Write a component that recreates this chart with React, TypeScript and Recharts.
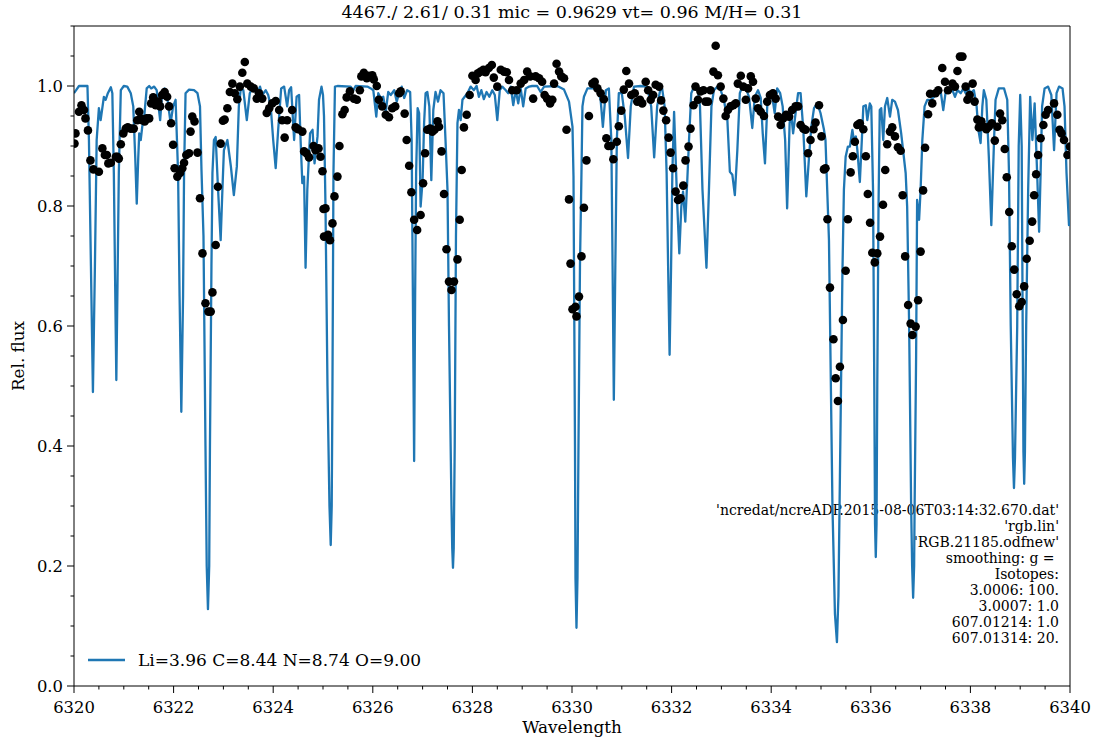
import React from 'react';
import { ComposedChart, Line, Scatter, XAxis, YAxis, ReferenceLine } from 'recharts';

type Pt = [number, number];

// synthetic spectrum (wavelength, relative flux)
const model6320: Pt[] = [
  [6320.0, 0.988], [6320.1, 1.0], [6320.27, 1.0], [6320.3, 0.91], [6320.34, 0.7], [6320.38, 0.49], [6320.42, 0.7],
  [6320.455, 0.91], [6320.5, 0.963], [6320.535, 0.943], [6320.6, 0.982], [6320.635, 0.977], [6320.68, 0.988],
  [6320.74, 0.998], [6320.77, 0.988], [6320.8, 0.855], [6320.825, 0.68], [6320.85, 0.51], [6320.875, 0.68],
  [6320.9, 0.855], [6320.94, 0.993], [6321.0, 1.0], [6321.07, 0.999], [6321.14, 0.988], [6321.19, 0.966],
  [6321.23, 0.88], [6321.26, 0.804], [6321.29, 0.88], [6321.31, 0.921], [6321.34, 0.91], [6321.37, 0.932],
  [6321.41, 0.949], [6321.46, 0.996], [6321.51, 1.0], [6321.55, 0.996], [6321.61, 0.999], [6321.66, 0.993],
  [6321.73, 0.943], [6321.77, 0.988], [6321.82, 0.996], [6321.87, 0.982], [6321.94, 0.938], [6321.99, 0.966],
  [6322.04, 0.977], [6322.09, 0.855], [6322.12, 0.65], [6322.155, 0.457], [6322.19, 0.65], [6322.21, 0.855],
  [6322.24, 0.988], [6322.31, 0.994], [6322.41, 0.993], [6322.48, 0.988], [6322.53, 0.966], [6322.56, 0.86],
  [6322.6, 0.75], [6322.64, 0.4], [6322.665, 0.2], [6322.69, 0.128], [6322.715, 0.2], [6322.73, 0.4],
  [6322.76, 0.7], [6322.78, 0.855],
  [6322.81, 0.91], [6322.845, 0.915], [6322.89, 0.832], [6322.945, 0.743], [6322.98, 0.827], [6323.01, 0.893],
  [6323.08, 0.91], [6323.15, 0.866], [6323.21, 0.818], [6323.27, 0.866], [6323.31, 0.966], [6323.35, 0.996],
  [6323.4, 0.993], [6323.47, 0.943], [6323.53, 0.988], [6323.6, 0.999], [6323.67, 0.985], [6323.735, 0.999],
  [6323.78, 0.985], [6323.85, 0.993], [6323.9, 0.985], [6323.95, 0.966], [6324.0, 0.91], [6324.05, 0.863],
  [6324.1, 0.927], [6324.16, 0.996], [6324.22, 0.999], [6324.28, 0.966], [6324.32, 0.993], [6324.36, 0.998],
  [6324.42, 0.91], [6324.47, 0.982], [6324.52, 0.985], [6324.55, 0.91], [6324.585, 0.838], [6324.62, 0.849],
  [6324.65, 0.697], [6324.685, 0.827], [6324.74, 0.921], [6324.79, 0.927], [6324.83, 0.871], [6324.89, 0.916],
  [6324.92, 0.977], [6324.97, 0.999], [6325.0, 0.985],
];

const model6325: Pt[] = [
  [6325.02, 0.95], [6325.05, 0.8], [6325.09, 0.5], [6325.13, 0.3], [6325.155, 0.235], [6325.175, 0.3],
  [6325.19, 0.5], [6325.21, 0.855],
  [6325.24, 0.999], [6325.29, 1.0], [6325.555, 0.999], [6325.61, 0.993], [6325.655, 1.0], [6325.89, 0.999],
  [6325.96, 0.996], [6326.01, 0.993], [6326.07, 0.949], [6326.11, 0.988], [6326.16, 0.98], [6326.21, 0.982],
  [6326.26, 0.957], [6326.31, 0.99], [6326.36, 0.985], [6326.43, 0.993], [6326.48, 0.974], [6326.53, 0.988],
  [6326.58, 0.999], [6326.63, 0.98], [6326.69, 0.993], [6326.75, 0.99], [6326.78, 0.91], [6326.805, 0.65],
  [6326.83, 0.375], [6326.85, 0.65], [6326.87, 0.855], [6326.9, 0.963], [6326.93, 0.955], [6326.96, 0.799],
  [6327.0, 0.843], [6327.03, 0.938], [6327.06, 0.988], [6327.095, 0.99], [6327.135, 0.966], [6327.175, 0.843],
  [6327.215, 0.96], [6327.26, 0.99], [6327.31, 0.974], [6327.36, 0.993], [6327.42, 0.988], [6327.46, 0.91],
  [6327.5, 0.827], [6327.53, 0.6], [6327.58, 0.3], [6327.595, 0.23], [6327.61, 0.197], [6327.625, 0.23],
  [6327.645, 0.4], [6327.67, 0.75],
  [6327.7, 0.938], [6327.73, 0.96], [6327.765, 0.943], [6327.8, 0.977], [6327.845, 0.982], [6327.9, 0.988],
  [6327.965, 0.999], [6328.03, 0.993], [6328.085, 1.0], [6328.13, 0.982], [6328.18, 0.993], [6328.23, 0.978],
  [6328.285, 0.99], [6328.34, 0.982], [6328.4, 0.993], [6328.45, 0.985], [6328.5, 0.943], [6328.55, 0.993],
  [6328.6, 0.999], [6328.67, 0.993], [6328.72, 0.988], [6328.77, 0.999], [6328.82, 0.968], [6328.87, 0.993],
  [6328.92, 0.971], [6328.97, 0.996], [6329.02, 0.966], [6329.07, 0.996], [6329.14, 0.999], [6329.2, 1.0],
  [6329.3, 1.0], [6329.37, 0.99], [6329.44, 0.999], [6329.705, 1.0], [6329.84, 0.994], [6329.94, 0.974],
  [6330.01, 0.932],
];

const model6330: Pt[] = [
  [6330.03, 0.85], [6330.06, 0.4], [6330.07, 0.18], [6330.09, 0.097], [6330.11, 0.18], [6330.13, 0.4],
  [6330.16, 0.7], [6330.19, 0.855],
  [6330.21, 0.966], [6330.24, 0.982], [6330.31, 0.996], [6330.51, 0.996], [6330.575, 0.977], [6330.62, 0.932],
  [6330.68, 0.993], [6330.74, 0.996], [6330.79, 0.91], [6330.815, 0.7], [6330.84, 0.477], [6330.87, 0.7],
  [6330.9, 0.91], [6330.94, 0.988], [6331.0, 0.988], [6331.06, 0.949], [6331.125, 0.88], [6331.18, 0.966],
  [6331.245, 0.999], [6331.38, 1.0], [6331.51, 0.999], [6331.59, 0.966], [6331.65, 0.881], [6331.71, 0.966],
  [6331.77, 0.993], [6331.81, 0.996], [6331.86, 0.966], [6331.9, 0.855], [6331.93, 0.7], [6331.96, 0.552],
  [6331.99, 0.7], [6332.015, 0.855], [6332.05, 0.957], [6332.08, 0.882], [6332.115, 0.799], [6332.155, 0.721],
  [6332.195, 0.799], [6332.23, 0.824], [6332.275, 0.774], [6332.315, 0.843], [6332.35, 0.91], [6332.395, 0.988],
  [6332.45, 0.999], [6332.52, 0.996], [6332.57, 0.966], [6332.62, 0.827], [6332.7, 0.697], [6332.75, 0.827],
  [6332.8, 0.966], [6332.85, 0.993], [6332.92, 0.999], [6332.985, 0.993], [6333.05, 0.977], [6333.12, 0.943],
  [6333.17, 0.857], [6333.22, 0.852], [6333.27, 0.818], [6333.32, 0.893], [6333.37, 0.988], [6333.42, 0.999],
  [6333.49, 0.996], [6333.555, 0.982], [6333.62, 0.93], [6333.67, 0.982], [6333.735, 0.993], [6333.79, 0.98],
  [6333.83, 0.921], [6333.875, 0.871], [6333.92, 0.966], [6333.975, 0.985], [6334.03, 0.977], [6334.07, 0.955],
  [6334.12, 0.996], [6334.18, 0.988], [6334.23, 0.966], [6334.28, 0.91], [6334.32, 0.796], [6334.37, 0.938],
  [6334.4, 0.955], [6334.44, 0.921], [6334.49, 0.955], [6334.54, 0.988], [6334.59, 0.988], [6334.645, 0.927],
  [6334.705, 0.816], [6334.76, 0.882], [6334.805, 0.932], [6334.86, 0.963], [6334.925, 0.971], [6334.99, 0.955],
  [6335.06, 0.927],
];

const model6335: Pt[] = [
  [6335.09, 0.91], [6335.16, 0.743], [6335.23, 0.3], [6335.28, 0.12], [6335.32, 0.073], [6335.35, 0.15],
  [6335.38, 0.35], [6335.43, 0.688], [6335.46, 0.827], [6335.495, 0.882], [6335.54, 0.899], [6335.58, 0.899],
  [6335.63, 0.927], [6335.66, 0.91], [6335.7, 0.916], [6335.73, 0.893], [6335.78, 0.84], [6335.82, 0.91],
  [6335.85, 0.966], [6335.9, 0.968], [6335.93, 0.943], [6335.98, 0.971], [6336.01, 0.966], [6336.045, 0.827],
  [6336.07, 0.5], [6336.085, 0.27], [6336.1, 0.215], [6336.115, 0.27], [6336.13, 0.5], [6336.155, 0.8],
  [6336.18, 0.96], [6336.21, 0.963],
  [6336.25, 0.91], [6336.285, 0.966], [6336.33, 0.98], [6336.385, 0.949], [6336.43, 0.977], [6336.485, 0.974],
  [6336.545, 0.96], [6336.61, 0.921], [6336.7, 0.855], [6336.73, 0.799], [6336.77, 0.6], [6336.81, 0.3],
  [6336.83, 0.2], [6336.85, 0.147], [6336.87, 0.2], [6336.88, 0.3], [6336.91, 0.55], [6336.93, 0.81],
  [6336.97, 0.777], [6337.0, 0.827],
  [6337.035, 0.91], [6337.08, 0.966], [6337.135, 0.977], [6337.2, 0.977], [6337.27, 0.982], [6337.335, 0.99],
  [6337.4, 0.993], [6337.455, 0.96], [6337.5, 0.988], [6337.57, 0.996], [6337.64, 0.993], [6337.69, 0.982],
  [6337.74, 0.993], [6337.805, 0.988], [6337.86, 0.996], [6337.905, 0.988], [6337.96, 0.996], [6338.005, 0.988],
  [6338.07, 0.993], [6338.125, 0.966], [6338.16, 0.927], [6338.205, 0.905], [6338.24, 0.966], [6338.27, 0.993],
  [6338.32, 0.977], [6338.37, 0.882], [6338.42, 0.768], [6338.475, 0.91], [6338.505, 0.977], [6338.57, 0.996],
  [6338.675, 0.996], [6338.74, 0.977], [6338.775, 0.855], [6338.81, 0.6], [6338.855, 0.38], [6338.875, 0.33],
  [6338.895, 0.38], [6338.94, 0.6],
  [6338.97, 0.9], [6339.0, 0.985], [6339.03, 0.9], [6339.05, 0.6], [6339.065, 0.39], [6339.08, 0.337],
  [6339.095, 0.39], [6339.12, 0.6],
  [6339.16, 0.827], [6339.2, 0.982], [6339.245, 0.91], [6339.29, 0.971], [6339.345, 0.843], [6339.38, 0.757],
  [6339.41, 0.855], [6339.44, 0.966], [6339.49, 0.996], [6339.56, 0.999], [6339.625, 0.985], [6339.68, 0.893],
  [6339.73, 0.988], [6339.78, 0.999], [6339.85, 0.996], [6339.89, 0.966], [6339.93, 0.855], [6339.98, 0.768],
  [6340.0, 0.77],
];

// observed points
const obs6320: Pt[] = [
  [6320.01, 0.904], [6320.03, 0.921], [6320.1, 0.957], [6320.15, 0.968], [6320.2, 0.96], [6320.23, 0.946],
  [6320.28, 0.926], [6320.33, 0.876], [6320.39, 0.861], [6320.5, 0.857], [6320.57, 0.896], [6320.62, 0.885],
  [6320.66, 0.885], [6320.69, 0.871], [6320.74, 0.872], [6320.84, 0.882], [6320.87, 0.882], [6320.9, 0.879],
  [6320.94, 0.903], [6320.99, 0.921], [6321.04, 0.929], [6321.08, 0.931], [6321.14, 0.929], [6321.2, 0.929],
  [6321.27, 0.943], [6321.31, 0.957], [6321.34, 0.946], [6321.37, 0.943], [6321.42, 0.941], [6321.46, 0.946],
  [6321.51, 0.946], [6321.55, 0.971], [6321.59, 0.981], [6321.64, 0.968], [6321.69, 0.974], [6321.73, 0.966],
  [6321.77, 0.985], [6321.82, 0.99], [6321.87, 0.982], [6321.91, 0.966], [6321.95, 0.938], [6321.99, 0.902],
  [6322.02, 0.863], [6322.075, 0.849], [6322.13, 0.855], [6322.175, 0.863], [6322.21, 0.872], [6322.255, 0.885],
  [6322.31, 0.888], [6322.34, 0.924], [6322.375, 0.949], [6322.42, 0.941], [6322.48, 0.889], [6322.53, 0.813],
  [6322.58, 0.721], [6322.64, 0.638], [6322.7, 0.624], [6322.745, 0.624], [6322.78, 0.656], [6322.845, 0.735],
  [6322.89, 0.832], [6322.945, 0.904], [6322.99, 0.942], [6323.025, 0.944], [6323.08, 0.963], [6323.13, 0.99],
  [6323.18, 1.004], [6323.23, 0.988], [6323.28, 0.978], [6323.33, 0.999], [6323.38, 1.022], [6323.43, 1.04],
  [6323.48, 1.004], [6323.55, 0.999], [6323.61, 0.996], [6323.67, 0.979], [6323.715, 0.988], [6323.78, 0.979],
  [6323.87, 0.955], [6323.92, 0.963], [6323.98, 0.971], [6324.05, 0.975], [6324.12, 0.96], [6324.18, 0.943],
  [6324.23, 0.914], [6324.28, 0.943], [6324.38, 0.96], [6324.45, 0.931], [6324.5, 0.928], [6324.585, 0.924],
  [6324.62, 0.891], [6324.67, 0.888], [6324.72, 0.881], [6324.81, 0.9], [6324.85, 0.893], [6324.91, 0.896],
  [6324.95, 0.882], [6324.99, 0.858],
];

const obs6325: Pt[] = [
  [6325.01, 0.795], [6325.02, 0.749], [6325.05, 0.796], [6325.1, 0.752], [6325.14, 0.743], [6325.19, 0.771],
  [6325.23, 0.816], [6325.29, 0.849], [6325.33, 0.9], [6325.39, 0.953], [6325.435, 0.96], [6325.475, 0.981],
  [6325.54, 0.991], [6325.62, 0.979], [6325.68, 0.977], [6325.74, 0.993], [6325.77, 1.016], [6325.82, 1.022],
  [6325.88, 1.013], [6325.92, 1.017], [6325.99, 1.018], [6326.02, 1.011], [6326.08, 1.0], [6326.12, 0.977],
  [6326.19, 0.966], [6326.26, 0.952], [6326.325, 0.948], [6326.39, 0.963], [6326.45, 0.966], [6326.53, 0.988],
  [6326.56, 0.991], [6326.64, 0.954], [6326.68, 0.91], [6326.73, 0.867], [6326.775, 0.823], [6326.83, 0.777],
  [6326.89, 0.76], [6326.96, 0.785], [6327.01, 0.838], [6327.05, 0.888], [6327.095, 0.927], [6327.15, 0.929],
  [6327.195, 0.924], [6327.24, 0.927], [6327.3, 0.941], [6327.33, 0.932], [6327.38, 0.891], [6327.43, 0.82],
  [6327.48, 0.728], [6327.53, 0.674], [6327.58, 0.66], [6327.63, 0.674], [6327.7, 0.711], [6327.745, 0.777],
  [6327.785, 0.86], [6327.83, 0.931], [6327.885, 0.952], [6327.945, 0.985], [6328.0, 1.017], [6328.065, 1.01],
  [6328.11, 1.021], [6328.165, 1.024], [6328.22, 1.027], [6328.265, 1.023], [6328.33, 1.03], [6328.39, 1.035],
  [6328.43, 1.014], [6328.5, 0.999], [6328.57, 1.027], [6328.635, 1.024], [6328.69, 1.023], [6328.735, 1.01],
  [6328.8, 0.993], [6328.89, 0.993], [6328.97, 1.004], [6329.04, 1.01], [6329.1, 1.024], [6329.16, 1.016],
  [6329.22, 0.979], [6329.27, 1.016], [6329.34, 1.013], [6329.4, 1.007], [6329.45, 0.985], [6329.5, 0.979],
  [6329.56, 0.971], [6329.605, 0.977], [6329.64, 1.004], [6329.69, 1.037], [6329.74, 1.024], [6329.785, 1.016],
  [6329.84, 1.013], [6329.89, 0.927], [6329.94, 0.811], [6329.97, 0.704], [6330.01, 0.628],
];

const obs6330: Pt[] = [
  [6330.07, 0.632], [6330.09, 0.616], [6330.14, 0.649], [6330.19, 0.716], [6330.24, 0.797], [6330.29, 0.876],
  [6330.34, 0.95], [6330.41, 1.004], [6330.455, 1.007], [6330.51, 0.996], [6330.575, 0.988], [6330.64, 0.978],
  [6330.69, 0.913], [6330.73, 0.9], [6330.78, 0.9], [6330.83, 0.878], [6330.9, 0.907], [6330.94, 0.933],
  [6330.99, 0.959], [6331.04, 0.994], [6331.09, 1.025], [6331.145, 1.004], [6331.19, 0.985], [6331.26, 0.988],
  [6331.31, 0.974], [6331.365, 0.977], [6331.41, 0.971], [6331.48, 1.007], [6331.53, 0.993], [6331.58, 0.977],
  [6331.63, 0.985], [6331.68, 1.002], [6331.75, 0.999], [6331.79, 0.976], [6331.835, 0.959], [6331.89, 0.943],
  [6331.94, 0.914], [6331.98, 0.889], [6332.03, 0.863], [6332.08, 0.824], [6332.13, 0.81], [6332.18, 0.813],
  [6332.235, 0.834], [6332.28, 0.876], [6332.34, 0.899], [6332.38, 0.929], [6332.44, 0.968], [6332.48, 0.999],
  [6332.53, 0.977], [6332.58, 0.991], [6332.64, 0.993], [6332.68, 0.974], [6332.73, 0.974], [6332.78, 0.993],
  [6332.84, 1.024], [6332.885, 1.067], [6332.93, 1.018], [6332.985, 0.999], [6333.04, 0.979], [6333.085, 0.95],
  [6333.13, 0.96], [6333.185, 0.966], [6333.24, 0.968], [6333.29, 0.971], [6333.33, 1.004], [6333.39, 1.017],
  [6333.44, 0.999], [6333.49, 0.977], [6333.535, 0.996], [6333.59, 1.016], [6333.635, 1.007], [6333.69, 0.979],
  [6333.735, 0.963], [6333.79, 0.957], [6333.855, 0.95], [6333.92, 0.974], [6333.975, 0.985], [6334.035, 0.988],
  [6334.09, 0.979], [6334.14, 0.949], [6334.19, 0.935], [6334.24, 0.946], [6334.3, 0.952], [6334.36, 0.949],
  [6334.42, 0.96], [6334.49, 0.966], [6334.54, 0.966], [6334.59, 0.935], [6334.645, 0.929], [6334.69, 0.927],
  [6334.74, 0.888], [6334.79, 0.91], [6334.85, 0.928], [6334.89, 0.939], [6334.96, 0.968], [6335.01, 0.916],
  [6335.06, 0.861],
];

const obs6335: Pt[] = [
  [6335.09, 0.863], [6335.13, 0.778], [6335.18, 0.664], [6335.25, 0.578], [6335.295, 0.513], [6335.34, 0.475],
  [6335.38, 0.532], [6335.44, 0.61], [6335.495, 0.692], [6335.54, 0.778], [6335.595, 0.856], [6335.64, 0.883],
  [6335.68, 0.907], [6335.73, 0.935], [6335.78, 0.938], [6335.85, 0.928], [6335.9, 0.883], [6335.94, 0.82],
  [6335.985, 0.772], [6336.03, 0.722], [6336.08, 0.706], [6336.13, 0.721], [6336.185, 0.749], [6336.245, 0.802],
  [6336.29, 0.86], [6336.33, 0.903], [6336.385, 0.924], [6336.43, 0.931], [6336.485, 0.916], [6336.545, 0.898],
  [6336.6, 0.892], [6336.64, 0.818], [6336.69, 0.716], [6336.75, 0.635], [6336.8, 0.604], [6336.835, 0.585],
  [6336.9, 0.599], [6336.95, 0.643], [6337.0, 0.724], [6337.05, 0.826], [6337.09, 0.897], [6337.15, 0.953],
  [6337.19, 0.987], [6337.235, 0.971], [6337.3, 0.988], [6337.355, 0.993], [6337.435, 1.03], [6337.49, 1.007],
  [6337.55, 0.993], [6337.64, 1.004], [6337.69, 0.999], [6337.74, 1.025], [6337.79, 1.049], [6337.84, 1.049],
  [6337.905, 0.999], [6337.94, 0.977], [6337.985, 0.985], [6338.045, 1.004], [6338.085, 0.974], [6338.14, 0.944],
  [6338.17, 0.931], [6338.22, 0.941], [6338.27, 0.932], [6338.32, 0.928], [6338.37, 0.932], [6338.43, 0.938],
  [6338.49, 0.909], [6338.54, 0.932], [6338.595, 0.954], [6338.64, 0.943], [6338.69, 0.895], [6338.73, 0.848],
  [6338.78, 0.79], [6338.83, 0.733], [6338.88, 0.694], [6338.93, 0.653], [6338.98, 0.633], [6339.03, 0.64],
  [6339.08, 0.666], [6339.13, 0.712], [6339.19, 0.742], [6339.24, 0.774], [6339.28, 0.818], [6339.32, 0.853],
  [6339.36, 0.885], [6339.41, 0.913], [6339.465, 0.935], [6339.51, 0.952], [6339.56, 0.96], [6339.68, 0.971],
  [6339.745, 0.952], [6339.79, 0.927], [6339.83, 0.921], [6339.88, 0.91], [6339.95, 0.885], [6340.0, 0.899],
];

const xTicks = [
  6320, 6320.5, 6321, 6321.5, 6322, 6322.5, 6323, 6323.5, 6324, 6324.5, 6325, 6325.5, 6326, 6326.5,
  6327, 6327.5, 6328, 6328.5, 6329, 6329.5, 6330, 6330.5, 6331, 6331.5, 6332, 6332.5, 6333, 6333.5,
  6334, 6334.5, 6335, 6335.5, 6336, 6336.5, 6337, 6337.5, 6338, 6338.5, 6339, 6339.5, 6340,
];
const xLabels = [6320, 6322, 6324, 6326, 6328, 6330, 6332, 6334, 6336, 6338, 6340];
const yTicks = [
  0, 0.05, 0.1, 0.15, 0.2, 0.25, 0.3, 0.35, 0.4, 0.45, 0.5, 0.55, 0.6, 0.65, 0.7, 0.75, 0.8, 0.85, 0.9,
  0.95, 1.0, 1.05, 1.1,
];
const yLabels = [0, 0.2, 0.4, 0.6, 0.8, 1.0];

const title = '4467./ 2.61/ 0.31 mic = 0.9629 vt= 0.96 M/H= 0.31';
const legendLabel = 'Li=3.96 C=8.44 N=8.74 O=9.00';
const infoLines = [
  "'ncredat/ncreADP.2015-08-06T03:14:32.670.dat'",
  "'rgb.lin'",
  "'RGB.21185.odfnew'",
  'smoothing: g = ',
  'Isotopes:',
  '3.0006: 100.',
  '3.0007: 1.0',
  '607.01214: 1.0',
  '607.01314: 20.',
];

const toRows = (pts: Pt[]) => pts.map(([w, f]) => ({ w, f }));
const modelData = toRows([...model6320, ...model6325, ...model6330, ...model6335]);
const obsData = toRows([...obs6320, ...obs6325, ...obs6330, ...obs6335]);

const FONT = 'DejaVu Serif';
const BLUE = '#1f77b4';

const isIn = (list: number[], v: number) => list.some((l) => Math.abs(l - v) < 1e-6);

const XTick = (props: any) => {
  const { x, y, payload } = props;
  const major = isIn(xLabels, payload.value);
  return (
    <g>
      <line x1={x} x2={x} y1={y} y2={y + (major ? 7 : 3.5)} stroke="#000" strokeWidth={1} />
      {major && (
        <text
          x={x}
          y={y + 27}
          textAnchor="middle"
          fontFamily={FONT}
          style={{ fontFamily: FONT }}
          fontSize={16.4}
          fill="#000"
        >
          {payload.value}
        </text>
      )}
    </g>
  );
};

const YTick = (props: any) => {
  const { x, y, payload } = props;
  const major = isIn(yLabels, payload.value);
  return (
    <g>
      <line x1={x - (major ? 7 : 3.5)} x2={x} y1={y} y2={y} stroke="#000" strokeWidth={1} />
      {major && (
        <text
          x={x - 11}
          y={y + 5.8}
          textAnchor="end"
          fontFamily={FONT}
          style={{ fontFamily: FONT }}
          fontSize={16.4}
          fill="#000"
        >
          {payload.value.toFixed(1)}
        </text>
      )}
    </g>
  );
};

const Dot = (props: any) => <circle cx={props.cx} cy={props.cy} r={4.3} fill="#000" />;

export default function App() {
  return (
    <div style={{ position: 'absolute', left: 0, top: 0, width: 1095, height: 742, background: '#fff' }}>
      <ComposedChart width={1095} height={742} margin={{ top: 26, right: 25, bottom: 0, left: 0 }}>
        <XAxis
          type="number"
          dataKey="w"
          domain={[6320, 6340]}
          ticks={xTicks}
          interval={0}
          allowDataOverflow
          tick={<XTick />}
          tickLine={false}
          tickSize={0}
          tickMargin={0}
          axisLine={{ stroke: '#000', strokeWidth: 1 }}
          height={56}
        />
        <YAxis
          type="number"
          dataKey="f"
          domain={[0, 1.1]}
          ticks={yTicks}
          interval={0}
          allowDataOverflow
          tick={<YTick />}
          tickLine={false}
          tickSize={0}
          tickMargin={0}
          axisLine={{ stroke: '#000', strokeWidth: 1 }}
          width={74}
        />
        <ReferenceLine y={1.1} stroke="#000" strokeWidth={1} />
        <ReferenceLine x={6340} stroke="#000" strokeWidth={1} />
        <Scatter data={obsData} dataKey="f" shape={<Dot />} isAnimationActive={false} />
        <Line
          data={modelData}
          dataKey="f"
          type="linear"
          stroke={BLUE}
          strokeWidth={2.3}
          strokeLinejoin="round"
          dot={false}
          activeDot={false}
          isAnimationActive={false}
        />
        <text x={572} y={18} textAnchor="middle" fontFamily={FONT} fontSize={17.5} fill="#000">
          {title}
        </text>
        <text x={572} y={733} textAnchor="middle" fontFamily={FONT} fontSize={16.8} fill="#000">
          Wavelength
        </text>
        <text
          x={24}
          y={356}
          textAnchor="middle"
          transform="rotate(-90 24 356)"
          fontFamily={FONT}
          fontSize={16.8}
          fill="#000"
        >
          Rel. flux
        </text>
        <line x1={88} x2={125} y1={660} y2={660} stroke={BLUE} strokeWidth={2.3} />
        <text x={138} y={666} fontFamily={FONT} fontSize={17} fill="#000">
          {legendLabel}
        </text>
        {infoLines.map((s, i) => (
          <text
            key={i}
            x={1059}
            y={515 + i * 16}
            textAnchor="end"
            fontFamily={FONT}
            fontSize={14}
            fill="#000"
            style={{ whiteSpace: 'pre' }}
          >
            {s}
          </text>
        ))}
      </ComposedChart>
    </div>
  );
}
